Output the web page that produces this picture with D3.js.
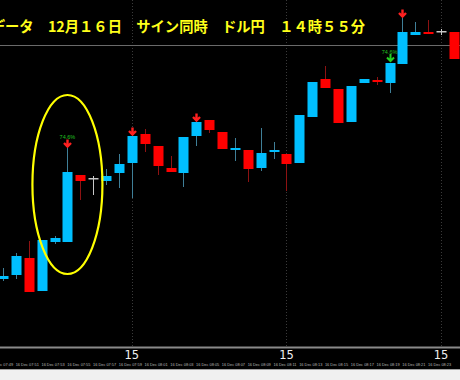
<!DOCTYPE html>
<html>
<head>
<meta charset="utf-8">
<script src="https://cdn.jsdelivr.net/npm/d3@7"></script>
<style>
body { margin: 0; background: #f0f0f0; overflow: hidden; }
</style>
</head>
<body>
<div id="chart"></div>
<script>
// 1 minute candles, usd/jpy
var times = ["07:49","07:50","07:51","07:52","07:53","07:54","07:55","07:56","07:57","07:58",
  "07:59","08:00","08:01","08:02","08:03","08:04","08:05","08:06","08:07","08:08",
  "08:09","08:10","08:11","08:12","08:13","08:14","08:15","08:16","08:17","08:18",
  "08:19","08:20","08:21","08:22","08:23","08:24"];

var opens = [103.321,103.325,103.342,103.309,103.358,103.358,103.425,103.421,103.419,103.427,
  103.437,103.466,103.454,103.432,103.427,103.464,103.480,103.468,103.450,103.450,
  103.432,103.448,103.446,103.437,103.483,103.521,103.511,103.478,103.517,103.520,
  103.517,103.536,103.565,103.568,103.568,103.568];
var highs = [103.332,103.347,103.359,103.360,103.364,103.452,103.425,103.424,103.431,103.446,
  103.464,103.471,103.454,103.444,103.463,103.478,103.480,103.468,103.462,103.450,
  103.472,103.458,103.446,103.485,103.518,103.534,103.511,103.514,103.521,103.523,
  103.537,103.582,103.578,103.580,103.571,103.568];
var lows = [103.319,103.321,103.308,103.309,103.356,103.358,103.400,103.405,103.415,103.412,
  103.402,103.448,103.425,103.428,103.413,103.454,103.467,103.451,103.439,103.418,
  103.429,103.441,103.409,103.437,103.483,103.512,103.477,103.478,103.517,103.515,
  103.507,103.536,103.565,103.566,103.565,103.541];
var closes = [103.324,103.344,103.308,103.360,103.362,103.428,103.419,103.421,103.424,103.436,
  103.464,103.456,103.434,103.428,103.463,103.478,103.470,103.451,103.452,103.431,
  103.447,103.450,103.436,103.485,103.518,103.512,103.477,103.514,103.521,103.518,
  103.537,103.568,103.568,103.566,103.568,103.541];

var bidPrice = 103.555;

// signal arrows
var sellSignals = [5, 10, 15, 31];
var buySignals = [30];
var pctSignals = [5, 30];
var pctText = "74.6%";

// bars with the big "15" marker
var markIdx = [10, 22, 34];
var markText = "15";

var title = "データ　12月１６日　サイン同時　ドル円　１４時５５分";

var width = 460, height = 380, plotBottom = 347;

var svg = d3.select("#chart")
  .append("svg")
    .attr("width", width)
    .attr("height", height)

svg.append("rect")
    .attr("width", width)
    .attr("height", 369)
    .attr("fill", "#000")

var x = d3.scaleLinear().domain([0, times.length - 1]).range([3, 454]);
var y = d3.scaleLinear().domain([103.253, 103.600]).range([plotBottom, 0]);

// dotted grid lines on the marker bars
svg.append("g")
  .selectAll("line")
  .data(markIdx)
  .enter()
  .append("line")
    .attr("x1", function(d){ return Math.round(x(d)) + 0.5 })
    .attr("x2", function(d){ return Math.round(x(d)) + 0.5 })
    .attr("y1", 0)
    .attr("y2", plotBottom)
    .attr("stroke", "#3a3a3a")
    .attr("stroke-dasharray", "1,2")

// bid line
svg.append("line")
    .attr("x1", 0)
    .attr("x2", width)
    .attr("y1", y(bidPrice) + 0.5)
    .attr("y2", y(bidPrice) + 0.5)
    .attr("stroke", "#6a6a6a")

// title (starts off the left edge like the screenshot)
svg.append("text")
    .attr("x", -9.3)
    .attr("y", 32)
    .attr("fill", "#ffff1a")
    .style("font-family", "'Noto Sans CJK JP', sans-serif")
    .style("font-weight", "bold")
    .style("font-size", "14.3px")
    .text(title)

var idx = d3.range(times.length);

function candleColor(i) {
  if (closes[i] > opens[i]) return "#00bfff";
  if (closes[i] < opens[i]) return "#ff0000";
  return "#c8c8c8";
}
function wickColor(i) {
  if (closes[i] > opens[i]) return "#3f7f98";
  if (closes[i] < opens[i]) return "#8e1212";
  return "#c8c8c8";
}

var candles = svg.append("g")
  .selectAll("g")
  .data(idx)
  .enter()
  .append("g")

candles.append("line")
    .attr("x1", function(i){ return Math.round(x(i)) + 0.5 })
    .attr("x2", function(i){ return Math.round(x(i)) + 0.5 })
    .attr("y1", function(i){ return y(highs[i]) })
    .attr("y2", function(i){ return y(lows[i]) })
    .attr("stroke", wickColor)
    .attr("stroke-width", 1)

candles.append("rect")
    .attr("x", function(i){ return Math.round(x(i)) - 4.5 })
    .attr("width", 10)
    .attr("y", function(i){
      var t = y(Math.max(opens[i], closes[i]));
      return opens[i] == closes[i] ? t - 1 : t;
    })
    .attr("height", function(i){ return Math.max(Math.abs(y(opens[i]) - y(closes[i])), 2) })
    .attr("fill", candleColor)

// doji crosses get a thin bar instead of a body
candles.filter(function(i){ return opens[i] == closes[i] })
  .select("rect")
    .attr("height", 1.5)

// down arrows, tip sits on the high
var arrowPath = "M0,-8 L0,-1 M-3.5,-4.5 L0,-1 L3.5,-4.5";

svg.append("g")
  .selectAll("path")
  .data(sellSignals)
  .enter()
  .append("path")
    .attr("transform", function(i){ return "translate(" + (Math.round(x(i)) + 0.5) + "," + (y(highs[i]) - 0.5) + ")" })
    .attr("d", arrowPath)
    .attr("fill", "none")
    .attr("stroke", "#ff2020")
    .attr("stroke-width", 2.4)

svg.append("g")
  .selectAll("path")
  .data(buySignals)
  .enter()
  .append("path")
    .attr("transform", function(i){ return "translate(" + (Math.round(x(i)) + 0.5) + "," + (y(highs[i]) - 1) + ")" })
    .attr("d", arrowPath)
    .attr("fill", "none")
    .attr("stroke", "#22d022")
    .attr("stroke-width", 2)

svg.append("g")
  .selectAll("text")
  .data(pctSignals)
  .enter()
  .append("text")
    .attr("x", function(i){ return x(i) })
    .attr("y", function(i){ return y(highs[i]) - 9 })
    .attr("text-anchor", "middle")
    .attr("fill", "#20c020")
    .style("font-family", "Arial, sans-serif")
    .style("font-size", "5.5px")
    .text(pctText)

// the yellow circle around the big candle
svg.append("ellipse")
    .attr("cx", x(5))
    .attr("cy", y(103.4155))
    .attr("rx", 35)
    .attr("ry", 89.5)
    .attr("fill", "none")
    .attr("stroke", "#ffff00")
    .attr("stroke-width", 2.2)

// bottom axis
svg.append("line")
    .attr("x1", 0)
    .attr("x2", width)
    .attr("y1", plotBottom + 0.5)
    .attr("y2", plotBottom + 0.5)
    .attr("stroke", "#8a8a8a")
    .attr("stroke-width", 2)

svg.append("g")
  .selectAll("text")
  .data(markIdx)
  .enter()
  .append("text")
    .attr("x", function(i){ return x(i) })
    .attr("y", 359)
    .attr("text-anchor", "middle")
    .attr("fill", "#f0f0f0")
    .style("font-family", "'DejaVu Sans', sans-serif")
    .style("font-size", "11.5px")
    .text(markText)

var timeAxis = d3.axisBottom(x)
    .tickValues(idx.filter(function(i){ return i % 2 == 0 }))
    .tickFormat(function(i){ return "16 Dec " + times[i] })
    .tickSize(0)
    .tickPadding(0)

var ax = svg.append("g")
    .attr("transform", "translate(-2,363)")
    .call(timeAxis)
ax.select(".domain").remove()
ax.selectAll("text")
    .attr("fill", "#b8b8b8")
    .style("font-family", "Arial, sans-serif")
    .style("font-size", "3.9px")

svg.append("line")
    .attr("x1", 0)
    .attr("x2", width)
    .attr("y1", 369.5)
    .attr("y2", 369.5)
    .attr("stroke", "#a0a0a0")
</script>
</body>
</html>
